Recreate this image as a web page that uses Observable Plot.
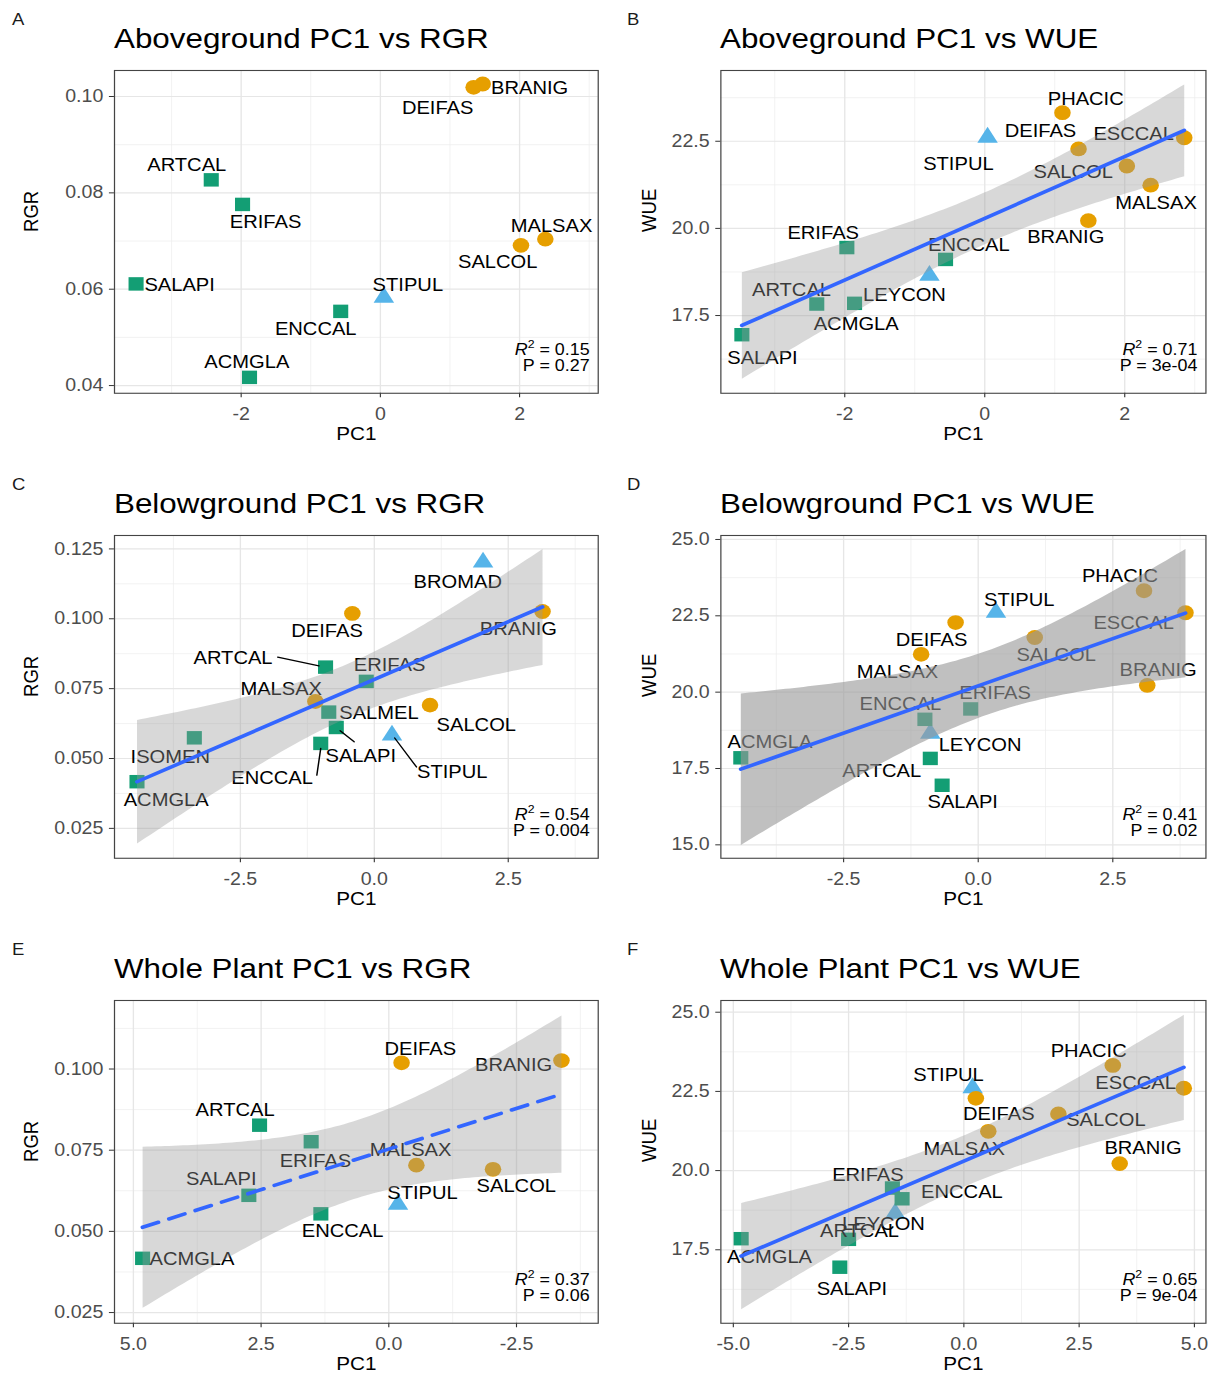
<!DOCTYPE html>
<html><head><meta charset="utf-8">
<script src="https://cdn.jsdelivr.net/npm/d3@7"></script>
<script src="https://cdn.jsdelivr.net/npm/@observablehq/plot@0.6"></script>
<style>
body{margin:0;background:#fff;font-family:"Liberation Sans",Arial,Helvetica,sans-serif;}
#page{position:relative;width:1090.18px;height:1382px;transform:scaleX(1.12);transform-origin:0 0;}
.cell{position:absolute;width:544.64px;height:465px;}
.letter{position:absolute;top:11px;font-size:16.5px;line-height:16.5px;color:#1a1a1a;}
.title{position:absolute;top:25px;font-size:28px;line-height:28px;color:#000;white-space:nowrap;}
.plot{position:absolute;top:60px;left:0;}
</style></head>
<body><div id="page"></div>
<script>
// ---------------- DATA ----------------
const speciesNames = ["ACMGLA","ARTCAL","BRANIG","BROMAD","DEIFAS","ENCCAL","ERIFAS","ESCCAL","ISOMEN","LEYCON","MALSAX","PHACIC","SALAPI","SALCOL","SALMEL","STIPUL"];
const rgrValues = [0.0417,0.0827,0.1026,0.1202,0.1019,0.0554,0.0776,null,0.0574,null,0.0704,null,0.0611,0.0691,0.0666,0.0583];
const wueValues = [17.85,17.83,20.22,null,22.28,19.11,19.45,22.60,null,18.65,21.24,23.32,16.95,21.79,null,22.61];

const squareSpecies = ["ACMGLA","ARTCAL","ENCCAL","ERIFAS","ISOMEN","SALAPI","SALMEL"];
const triangleSpecies = ["BROMAD","LEYCON","STIPUL"];
const circleSpecies = ["BRANIG","DEIFAS","ESCCAL","MALSAX","PHACIC","SALCOL"];

const panelLetters = ["A","B","C","D","E","F"];
const panelTitles = ["Aboveground PC1 vs RGR","Aboveground PC1 vs WUE","Belowground PC1 vs RGR","Belowground PC1 vs WUE","Whole Plant PC1 vs RGR","Whole Plant PC1 vs WUE"];
const yLabels = ["RGR","WUE","RGR","WUE","RGR","WUE"];
const r2Labels = ["0.15","0.71","0.54","0.41","0.37","0.65"];
const pLabels = ["0.27","3e-04","0.004","0.02","0.06","9e-04"];

const speciesA = ["SALAPI","ARTCAL","ERIFAS","ACMGLA","ENCCAL","STIPUL","DEIFAS","BRANIG","SALCOL","MALSAX"];
const pc1A = [-3.51,-2.43,-1.98,-1.88,-0.57,0.05,1.34,1.47,2.02,2.37];
const speciesB = ["SALAPI","ARTCAL","ACMGLA","ERIFAS","LEYCON","ENCCAL","STIPUL","PHACIC","DEIFAS","SALCOL","MALSAX","BRANIG","ESCCAL"];
const pc1B = [-3.47,-2.40,-1.86,-1.97,-0.79,-0.56,0.04,1.11,1.34,2.03,2.37,1.48,2.85];
const speciesC = ["ACMGLA","ISOMEN","ARTCAL","ERIFAS","MALSAX","SALMEL","SALAPI","ENCCAL","DEIFAS","BRANIG","BROMAD","SALCOL","STIPUL"];
const pc1C = [-4.43,-3.36,-0.91,-0.15,-1.10,-0.85,-0.71,-1.00,-0.41,3.14,2.03,1.04,0.33];
const speciesD = ["ACMGLA","ENCCAL","LEYCON","ERIFAS","ARTCAL","SALAPI","MALSAX","DEIFAS","STIPUL","SALCOL","PHACIC","ESCCAL","BRANIG"];
const pc1D = [-4.41,-0.99,-0.89,-0.14,-0.89,-0.67,-1.06,-0.42,0.33,1.05,3.08,3.85,3.14];
const speciesE = ["ACMGLA","SALAPI","ARTCAL","ERIFAS","ENCCAL","STIPUL","DEIFAS","MALSAX","SALCOL","BRANIG"];
const pc1E = [4.82,2.74,2.53,1.52,1.33,-0.18,-0.25,-0.54,-2.04,-3.38];
const speciesF = ["ACMGLA","SALAPI","ARTCAL","ERIFAS","ENCCAL","LEYCON","STIPUL","DEIFAS","MALSAX","SALCOL","PHACIC","ESCCAL","BRANIG"];
const pc1F = [-4.83,-2.69,-2.50,-1.55,-1.34,-1.49,0.19,0.26,0.53,2.05,3.23,4.77,3.38];

const xTicksA = [-2,0,2], yTicksA = [0.04,0.06,0.08,0.10];
const xTicksB = [-2,0,2], yTicksB = [17.5,20.0,22.5];
const xTicksC = [-2.5,0,2.5], yTicksC = [0.025,0.050,0.075,0.100,0.125];
const xTicksD = [-2.5,0,2.5], yTicksD = [15,17.5,20,22.5,25];
const xTicksE = [5,2.5,0,-2.5], yTicksE = [0.025,0.050,0.075,0.100];
const xTicksF = [-5,-2.5,0,2.5,5], yTicksF = [17.5,20,22.5,25];

// ---------------- STYLE / LAYOUT ----------------
const S = 1.12;                // horizontal stretch of the reference
const CELL_W = 610 / S;
const green = "#139E74", orange = "#E69F00", blue = "#56B4E9";
const lineShape = {draw(context, l) { context.moveTo(0, 0); context.lineTo(0, -l); }};

// label offsets (px) relative to each point, as placed by the repel algorithm
const labelOffsets = [
 {BRANIG:[47,4], DEIFAS:[-36,21], ARTCAL:[-24.5,-15], ERIFAS:[23,17.7], SALAPI:[43.6,1], STIPUL:[24,-12.3], ENCCAL:[-25,18.3], ACMGLA:[-2.7,-14.7], SALCOL:[-23.3,17.3], MALSAX:[6.2,-13.3]},
 {PHACIC:[23.3,-13.3], DEIFAS:[-38.1,-17.3], ESCCAL:[-50.6,-3.3], STIPUL:[-29.2,27.3], SALCOL:[-53.7,6], MALSAX:[5.4,17.7], BRANIG:[-22.6,17], ERIFAS:[-23.7,-14.3], ENCCAL:[23.3,-14.3], ARTCAL:[-25.3,-14.3], LEYCON:[-25,20], ACMGLA:[1.6,21], SALAPI:[20.6,23.3]},
 {BROMAD:[-25.3,20], DEIFAS:[-25.3,18], BRANIG:[-24.1,18], ARTCAL:[-92.6,-9], ERIFAS:[23.3,-15.7], MALSAX:[-34.2,-12.3], SALMEL:[50.2,0.7], SALCOL:[46.3,20], SALAPI:[24.5,28.3], STIPUL:[60.3,36.7], ISOMEN:[-24.1,19], ENCCAL:[-48.6,35], ACMGLA:[29.2,18.3]},
 {PHACIC:[-24.1,-15], STIPUL:[23.3,-12.3], ESCCAL:[-51.8,10], DEIFAS:[-24.1,17.3], SALCOL:[21.4,17.3], MALSAX:[-23.7,18], BRANIG:[10.9,-15], ERIFAS:[24.5,-15.7], ENCCAL:[-24.5,-14.7], ACMGLA:[29.2,-15.7], LEYCON:[49.8,11.7], ARTCAL:[-48.6,12.7], SALAPI:[20.6,17]},
 {DEIFAS:[18.7,-14], BRANIG:[-47.9,5], ARTCAL:[-24.5,-15], ERIFAS:[4.3,19.3], MALSAX:[-5.8,-15.3], SALAPI:[-27.6,-15.7], SALCOL:[23.3,17.3], STIPUL:[24.5,-10.7], ENCCAL:[21.8,17.3], ACMGLA:[49.4,0.7]},
 {PHACIC:[-24.1,-14.3], STIPUL:[-24.1,-12.7], ESCCAL:[-48.2,-5.3], DEIFAS:[23,15.7], SALCOL:[47.5,6], MALSAX:[-24.1,18.3], BRANIG:[23.3,-15], ERIFAS:[-24.5,-12.3], ENCCAL:[59.9,-6.7], LEYCON:[-11.7,10.7], ARTCAL:[10.9,-7.7], ACMGLA:[28.4,19], SALAPI:[12.1,22.3]}
];
// leader segments [startDx, startDy, endDx, endDy] (px) for panel C
const leadersC = {ARTCAL:[-6.6,-1.3,-47.9,-10], SALAPI:[3.9,3.3,17.9,14.3], ENCCAL:[0,5,-3.9,31.7], STIPUL:[2.7,2.7,24.5,31.7]};

const f0 = d => String(d), f1 = d => d.toFixed(1), f2 = d => d.toFixed(2), f3 = d => d.toFixed(3);
const layouts = [
 {species:speciesA, pc1:pc1A, xTicks:xTicksA, yTicks:yTicksA, xDomain:[-3.82,3.13], yDomain:[0.0384,0.1054], xMinor:[-3,-1,1,3], yMinor:[0.05,0.07,0.09], xFmt:f0, yFmt:f2, fit:null, ml:101.8, mr:11, yTitleX:27.7, letterX:10.7},
 {species:speciesB, pc1:pc1B, xTicks:xTicksB, yTicks:yTicksB, xDomain:[-3.77,3.16], yDomain:[15.27,24.53], xMinor:[-3,-1,1,3], yMinor:[16.25,18.75,21.25,23.75], xFmt:f0, yFmt:f1, fit:{op:0.38}, ml:98.2, mr:13.4, yTitleX:33.9, letterX:15.2},
 {species:speciesC, pc1:pc1C, xTicks:xTicksC, yTicks:yTicksC, xDomain:[-4.85,4.18], yDomain:[0.0143,0.1298], xMinor:[-3.75,-1.25,1.25,3.75], yMinor:[0.0375,0.0625,0.0875,0.1125], xFmt:f1, yFmt:f3, fit:{op:0.38}, ml:101.8, mr:11, yTitleX:27.7, letterX:10.7, leaders:leadersC},
 {species:speciesD, pc1:pc1D, xTicks:xTicksD, yTicks:yTicksD, xDomain:[-4.78,4.23], yDomain:[14.56,25.13], xMinor:[-3.75,-1.25,1.25,3.75], yMinor:[16.25,18.75,21.25,23.75], xFmt:f1, yFmt:f1, fit:{op:0.62}, ml:98.2, mr:13.4, yTitleX:33.9, letterX:15.2},
 {species:speciesE, pc1:pc1E, xTicks:xTicksE, yTicks:yTicksE, xDomain:[-4.10,5.37], reverse:true, yDomain:[0.0217,0.1211], xMinor:[3.75,1.25,-1.25,-3.75], yMinor:[0.0375,0.0625,0.0875,0.1125], xFmt:f1, yFmt:f3, fit:{op:0.38, dash:"15,10"}, ml:101.8, mr:11, yTitleX:27.7, letterX:10.7},
 {species:speciesF, pc1:pc1F, xTicks:xTicksF, yTicks:yTicksF, xDomain:[-5.27,5.25], yDomain:[15.18,25.37], xMinor:[-3.75,-1.25,1.25,3.75], yMinor:[16.25,18.75,21.25,23.75], xFmt:f1, yFmt:f1, fit:{op:0.38}, ml:98.2, mr:13.4, yTitleX:33.9, letterX:15.2}
];

const traitLookup = {
  RGR: new Map(speciesNames.map((s, i) => [s, rgrValues[i]])),
  WUE: new Map(speciesNames.map((s, i) => [s, wueValues[i]]))
};

function styleR2(svg) {
  const ns = "http://www.w3.org/2000/svg";
  svg.querySelectorAll("text").forEach(t => {
    const s = t.textContent;
    if (s.startsWith("R2 = ")) {
      t.textContent = "";
      const a = document.createElementNS(ns, "tspan"); a.setAttribute("font-style", "italic"); a.textContent = "R";
      const b = document.createElementNS(ns, "tspan"); b.setAttribute("font-size", "11"); b.setAttribute("dy", "-7"); b.textContent = "2";
      const c = document.createElementNS(ns, "tspan"); c.setAttribute("dy", "7"); c.textContent = s.slice(2);
      t.append(a, b, c);
    }
  });
}

const page = document.getElementById("page");
layouts.forEach((L, i) => {
  const col = i % 2, row = Math.floor(i / 2);
  const cell = document.createElement("div");
  cell.className = "cell";
  cell.style.left = (col * CELL_W) + "px";
  cell.style.top = (row * 465) + "px";
  page.appendChild(cell);

  const letter = document.createElement("div");
  letter.className = "letter"; letter.textContent = panelLetters[i];
  letter.style.left = L.letterX + "px";
  cell.appendChild(letter);

  const title = document.createElement("div");
  title.className = "title"; title.textContent = panelTitles[i];
  title.style.left = L.ml + "px";
  cell.appendChild(title);

  const trait = traitLookup[yLabels[i]];
  const pts = L.species.map((s, k) => ({name: s, x: L.pc1[k], y: trait.get(s)}));
  const tri = pts.filter(d => triangleSpecies.includes(d.name));
  const sq = pts.filter(d => squareSpecies.includes(d.name));
  const ci = pts.filter(d => circleSpecies.includes(d.name));
  const offs = labelOffsets[i];

  const marks = [
    Plot.gridX(L.xMinor, {stroke: "#EEEEEE", strokeOpacity: 1, strokeWidth: 0.7}),
    Plot.gridY(L.yMinor, {stroke: "#EEEEEE", strokeOpacity: 1, strokeWidth: 0.7}),
    Plot.gridX(L.xTicks, {stroke: "#E6E6E6", strokeOpacity: 1, strokeWidth: 1.2}),
    Plot.gridY(L.yTicks, {stroke: "#E6E6E6", strokeOpacity: 1, strokeWidth: 1.2}),
    Plot.dot(tri, {x: "x", y: "y", symbol: "triangle", r: 6.8, fill: blue}),
    Plot.dot(sq, {x: "x", y: "y", symbol: "square", r: 7.6, fill: green}),
    Plot.dot(ci, {x: "x", y: "y", symbol: "circle", r: 7.4, fill: orange})
  ];
  pts.forEach(p => {
    const o = offs[p.name] || [0, -15];
    marks.push(Plot.text([p], {x: "x", y: "y", text: "name", dx: o[0] / S, dy: o[1], fontSize: 18, fill: "#000"}));
  });
  if (L.leaders) {
    pts.forEach(p => {
      const ld = L.leaders[p.name];
      if (!ld) return;
      const vx = (ld[2] - ld[0]) / S, vy = ld[3] - ld[1];
      marks.push(Plot.vector([p], {x: "x", y: "y", dx: ld[0] / S, dy: ld[1], length: Math.hypot(vx, vy),
        rotate: Math.atan2(vx, -vy) * 180 / Math.PI, anchor: "start", stroke: "#000", strokeWidth: 1.3, shape: lineShape}));
    });
  }
  if (L.fit) {
    marks.push(Plot.linearRegressionY(pts, {x: "x", y: "y", ci: 0.95, fill: "#999999", fillOpacity: L.fit.op,
      stroke: "#3366FF", strokeWidth: 3.6, strokeDasharray: L.fit.dash || null}));
  }
  marks.push(
    Plot.axisX(L.xTicks, {tickFormat: L.xFmt, tickSize: 4.5, tickPadding: 10, fontSize: 17.5, fill: "#4D4D4D", stroke: "#333", label: null}),
    Plot.axisY(L.yTicks, {tickFormat: L.yFmt, tickSize: 4.5, tickPadding: 5.5, fontSize: 17.5, fill: "#4D4D4D", stroke: "#333", label: null}),
    Plot.frame({stroke: "#444", strokeWidth: 1.1}),
    Plot.text(["R2 = " + r2Labels[i]], {text: d => d, frameAnchor: "bottom-right", textAnchor: "end", dx: -7.6, dy: -38, fontSize: 16, fill: "#000"}),
    Plot.text(["P = " + pLabels[i]], {text: d => d, frameAnchor: "bottom-right", textAnchor: "end", dx: -7.6, dy: -22, fontSize: 16, fill: "#000"}),
    Plot.text(["PC1"], {text: d => d, frameAnchor: "bottom", dy: 47, fontSize: 18.5, fill: "#000"}),
    Plot.text([yLabels[i]], {text: d => d, frameAnchor: "left", dx: -(L.ml - L.yTitleX), rotate: -90, fontSize: 18.5, fill: "#000"})
  );

  const svg = Plot.plot({
    width: 545, height: 400,
    marginTop: 10, marginBottom: 67, marginLeft: L.ml, marginRight: L.mr,
    x: {domain: L.xDomain, reverse: !!L.reverse, label: null},
    y: {domain: L.yDomain, label: null},
    style: {fontFamily: "'Liberation Sans', Arial, Helvetica, sans-serif", fontSize: "17.5px", color: "#4D4D4D", background: "transparent", overflow: "visible"},
    marks
  });
  styleR2(svg);
  const holder = document.createElement("div");
  holder.className = "plot";
  holder.appendChild(svg);
  cell.appendChild(holder);
});
</script>
</body></html>
